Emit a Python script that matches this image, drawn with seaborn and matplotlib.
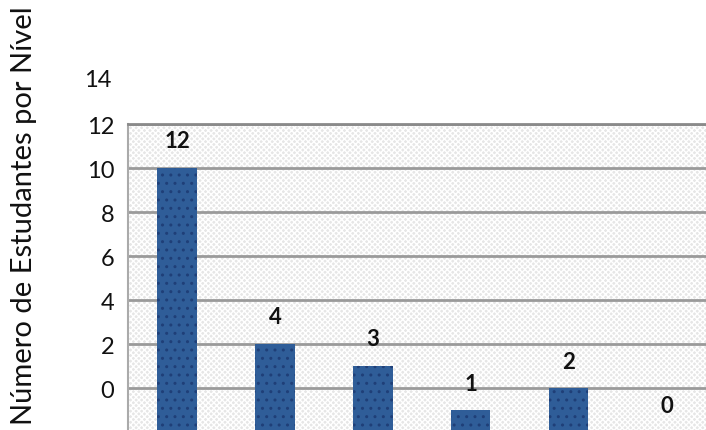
import matplotlib
matplotlib.use("Agg")
import matplotlib.pyplot as plt
import seaborn as sns
import pandas as pd
from matplotlib.patches import Rectangle

# Data
categories = ["N1", "N2", "N3", "N4", "N5", "N6"]
values = [12, 4, 3, 1, 2, 0]
tick_labels = ["0", "2", "4", "6", "8", "10", "12", "14"]
tick_offset = 2  # axis labels in the picture are shifted by 2 relative to bar values

sns.set_style("white")
plt.rcParams["font.family"] = ["Lato", "DejaVu Sans"]

df = pd.DataFrame({"cat": categories, "val": values})

fig = plt.figure(figsize=(7.06, 4.31), dpi=100)
ax = fig.add_axes([128 / 706, 0, (706 - 128) / 706, (431 - 125) / 431])

# patterned background
ax.set_facecolor("none")
bg = Rectangle((0, 0), 1, 1, transform=ax.transAxes, facecolor="#e6e6e6",
               edgecolor="#ffffff", hatch="xxxxxx", linewidth=0, zorder=-5)
ax.add_patch(bg)

sns.barplot(data=df, x="cat", y="val", color="#2f5d98", width=0.4,
            saturation=1, ax=ax, zorder=3)
for p in ax.patches[1:]:
    p.set_hatch("..")
    p.set_edgecolor("#1f3f78")
    p.set_linewidth(0)

ax.set_xlim(-0.5, 5.4)
ax.set_ylim(0.1, 14)

yt = [int(t) + tick_offset for t in tick_labels[:-1]]
ax.set_yticks(yt)
ax.set_yticklabels(tick_labels[:-1], fontsize=17, color="#111111")
ax.annotate(tick_labels[-1], xy=(0, int(tick_labels[-1]) + tick_offset),
            xycoords=("axes fraction", "data"), xytext=(-12, 0),
            textcoords="offset points", ha="right", va="center",
            fontsize=17, color="#111111", annotation_clip=False)
ax.tick_params(axis="y", length=9, width=1.2, color="#999999", pad=1, direction="out")
ax.tick_params(axis="x", bottom=False, labelbottom=False)

ax.yaxis.grid(True, color="#9a9a9a", linewidth=2, zorder=1)
ax.set_axisbelow(True)
for s in ["right", "bottom"]:
    ax.spines[s].set_visible(False)
ax.spines["top"].set_color("#8a8a8a")
ax.spines["top"].set_linewidth(2)
ax.spines["top"].set_linestyle((0, (2, 1)))
ax.spines["left"].set_color("#aaaaaa")
ax.spines["left"].set_linewidth(1.5)

ax.set_xlabel("")
ax.set_ylabel("")

for i, v in enumerate(values):
    ax.annotate(str(v), xy=(i, v), xytext=(0, 12), textcoords="offset points",
                ha="center", va="bottom", fontsize=16, fontweight="bold",
                color="#111111", annotation_clip=False)

fig.text(24 / 706, 1 - 216 / 431, "Número de Estudantes por Nível", rotation=90,
         ha="center", va="center", fontsize=21, color="#111111")

fig.savefig("out.png", dpi=100)
